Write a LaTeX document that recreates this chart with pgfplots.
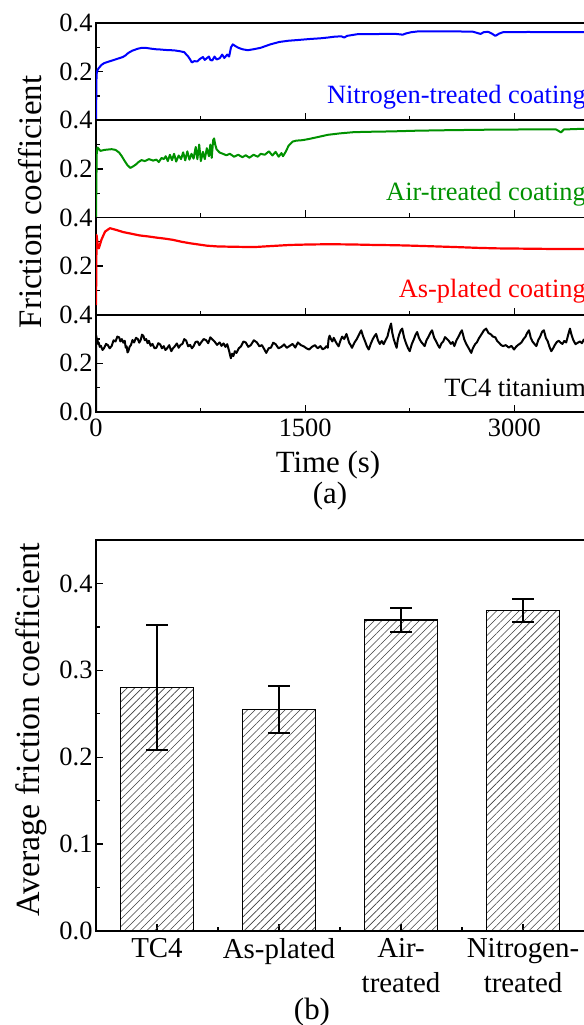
\documentclass[border=0pt]{standalone}
\usepackage{fontspec}
\setmainfont{Liberation Serif}
\usepackage{pgfplots}
\pgfplotsset{compat=1.18}
\usetikzlibrary{patterns.meta}

\definecolor{cblue}{RGB}{0,0,255}
\definecolor{cgreen}{RGB}{0,145,0}
\definecolor{cred}{RGB}{255,0,0}

\tikzset{lab/.style={font=\fontsize{26.5}{26.5}\selectfont, anchor=east, inner sep=0pt}}

\pgfplotsset{
  common/.style={
    anchor=south west, scale only axis,
    tick align=inside, xtick pos=bottom, ytick pos=left,
    major tick length=7bp, minor tick length=4bp,
    every tick/.style={line width=1.3bp, black},
    axis line style={line width=1.6bp},
    /pgf/number format/assume math mode=true,
    yticklabel style={/pgf/number format/.cd, fixed, fixed zerofill, precision=1},
    tick label style={font=\fontsize{26.5}{26.5}\selectfont},
  },
  panel/.style={
    common,
    at={(96bp,#1)},
    width=490bp, height=97.25bp,
    xmin=0, xmax=3514, ymin=0, ymax=0.4,
    xtick={0,1500,3000}, minor xtick={750,2250},
    xticklabels={,,},
    ytick={0.2,0.4}, minor ytick={0.1,0.3},
  },
}

\begin{document}
\begin{tikzpicture}
\useasboundingbox (0,0) rectangle (584bp,1025bp);

% ---------- panel 1: Nitrogen ----------
\begin{axis}[panel=904.75bp]
\addplot[cblue, line width=2bp, line join=round] coordinates {
(0,0.0) (4,0.19) (10,0.205) (19,0.214) (40,0.228) (59,0.235) (85,0.240) (112,0.245) (150,0.252)
(192,0.260) (210,0.266) (232,0.277) (260,0.286) (299,0.294) (330,0.298) (353,0.298) (400,0.294)
(430,0.292) (460,0.291) (500,0.289) (540,0.288) (566,0.287) (600,0.284) (633,0.280) (645,0.272)
(660,0.263) (675,0.250) (687,0.238) (705,0.243) (727,0.242) (745,0.252) (767,0.260) (780,0.248)
(794,0.255) (810,0.262) (820,0.248) (834,0.246) (850,0.262) (865,0.250) (887,0.255) (905,0.270)
(920,0.256) (941,0.270) (955,0.262) (968,0.300) (981,0.312) (1000,0.305) (1021,0.298) (1050,0.292)
(1088,0.288) (1130,0.292) (1181,0.298) (1250,0.312) (1315,0.322) (1380,0.327) (1448,0.330)
(1530,0.334) (1609,0.337) (1660,0.340) (1715,0.344) (1760,0.345) (1780,0.340) (1800,0.347)
(1876,0.354) (1950,0.354) (2063,0.355) (2150,0.355) (2200,0.352) (2223,0.357) (2260,0.362)
(2303,0.365) (2400,0.366) (2517,0.366) (2620,0.365) (2704,0.364) (2740,0.358) (2758,0.355)
(2780,0.362) (2811,0.364) (2840,0.356) (2864,0.347) (2890,0.356) (2918,0.362) (3100,0.363)
(3300,0.362) (3500,0.362)
};
\node[lab, text=cblue] at (rel axis cs:1,0.235) {Nitrogen-treated coating};
\end{axis}

% ---------- panel 2: Air ----------
\begin{axis}[panel=807.5bp]
\addplot[cgreen, line width=2bp, line join=round] coordinates {
(0,0.0) (5,0.26) (11,0.288) (32,0.274) (60,0.278) (112,0.281) (140,0.278) (166,0.267) (185,0.252)
(206,0.232) (226,0.215) (246,0.204) (266,0.210) (286,0.218) (305,0.228) (326,0.236) (350,0.232)
(380,0.240) (410,0.234) (433,0.238) (450,0.228) (470,0.245) (486,0.240) (500,0.252) (515,0.232)
(530,0.258) (545,0.236) (560,0.262) (575,0.230) (593,0.255) (610,0.240) (625,0.268) (640,0.235)
(655,0.272) (670,0.238) (685,0.262) (700,0.242) (715,0.290) (727,0.240) (740,0.300) (752,0.232)
(767,0.270) (780,0.240) (795,0.285) (810,0.252) (820,0.300) (830,0.245) (840,0.318) (847,0.325)
(855,0.300) (865,0.280) (887,0.267) (910,0.262) (935,0.256) (960,0.262) (990,0.250) (1020,0.258)
(1050,0.248) (1074,0.256) (1100,0.246) (1130,0.258) (1160,0.250) (1181,0.262) (1210,0.258)
(1240,0.272) (1265,0.255) (1288,0.270) (1310,0.250) (1330,0.265) (1341,0.252) (1360,0.270)
(1381,0.295) (1410,0.312) (1435,0.316) (1480,0.318) (1528,0.323) (1600,0.332) (1662,0.340)
(1750,0.346) (1849,0.351) (2000,0.353) (2116,0.354) (2300,0.357) (2517,0.359) (2800,0.361)
(3051,0.362) (3300,0.362) (3335,0.350) (3355,0.362) (3500,0.365)
};
\node[lab, text=cgreen] at (rel axis cs:1,0.24) {Air-treated coating};
\end{axis}

% ---------- panel 3: As-plated ----------
\begin{axis}[panel=710.25bp]
\addplot[cred, line width=2.2bp, line join=round] coordinates {
(0,0.040) (4,0.328) (12,0.290) (20,0.273) (40,0.310) (65,0.342) (100,0.356) (150,0.348)
(195,0.340) (255,0.333) (315,0.326) (375,0.322) (437,0.317) (495,0.313) (552,0.308) (615,0.300)
(674,0.294) (735,0.289) (796,0.284) (870,0.281) (950,0.280) (1050,0.279) (1155,0.279) (1270,0.283)
(1391,0.287) (1530,0.289) (1678,0.290) (1840,0.289) (2000,0.287) (2140,0.286) (2274,0.284)
(2440,0.281) (2600,0.278) (2740,0.275) (2876,0.273) (3040,0.272) (3200,0.271) (3350,0.270)
(3500,0.270)
};
\node[lab, text=cred] at (rel axis cs:1,0.245) {As-plated coating};
\end{axis}

% ---------- panel 4: TC4 ----------
\begin{axis}[panel=613bp, ytick={0,0.2,0.4},
  xticklabels={0,1500,3000}, xticklabel style={yshift=-3bp}]
\addplot[black, line width=2bp, line join=round] coordinates {
(0,0.0) (2,0.314) (6,0.295) (10,0.300) (15,0.280) (19,0.286) (27,0.268) (35,0.272) (47,0.255)
(59,0.264) (72,0.280) (85,0.275) (98,0.262) (112,0.271) (126,0.295) (140,0.290) (153,0.310)
(166,0.307) (175,0.290) (185,0.300) (196,0.285) (206,0.293) (213,0.265) (220,0.270) (226,0.245)
(232,0.250) (241,0.268) (250,0.275) (262,0.296) (273,0.286) (287,0.305) (300,0.300) (310,0.285)
(320,0.295) (330,0.318) (339,0.314) (350,0.295) (360,0.300) (370,0.283) (379,0.293) (392,0.272)
(405,0.280) (420,0.262) (433,0.264) (447,0.283) (460,0.278) (473,0.262) (486,0.271) (498,0.255)
(510,0.262) (525,0.275) (540,0.250) (552,0.262) (565,0.270) (580,0.282) (593,0.264) (606,0.276)
(620,0.280) (633,0.300) (647,0.293) (661,0.270) (675,0.276) (688,0.262) (700,0.271) (714,0.288)
(728,0.290) (741,0.275) (754,0.286) (772,0.300) (790,0.295) (805,0.283) (820,0.307) (835,0.298)
(850,0.290) (868,0.276) (887,0.286) (900,0.272) (915,0.282) (928,0.268) (941,0.279) (955,0.250)
(967,0.221) (976,0.240) (985,0.230) (996,0.250) (1007,0.243) (1024,0.262) (1040,0.270)
(1057,0.290) (1074,0.286) (1092,0.268) (1110,0.275) (1132,0.295) (1154,0.286) (1172,0.270)
(1190,0.275) (1205,0.260) (1221,0.243) (1238,0.262) (1255,0.265) (1271,0.285) (1288,0.279)
(1309,0.262) (1330,0.268) (1349,0.278) (1368,0.264) (1389,0.272) (1410,0.280) (1429,0.265)
(1448,0.286) (1469,0.275) (1490,0.270) (1509,0.262) (1528,0.257) (1549,0.268) (1570,0.275)
(1590,0.262) (1609,0.271) (1625,0.258) (1640,0.262) (1651,0.270) (1662,0.264) (1668,0.300)
(1675,0.314) (1685,0.300) (1695,0.290) (1705,0.305) (1715,0.293) (1728,0.280) (1740,0.270)
(1752,0.292) (1765,0.310) (1780,0.300) (1796,0.321) (1805,0.305) (1815,0.285) (1826,0.275)
(1836,0.264) (1853,0.285) (1870,0.300) (1886,0.318) (1902,0.336) (1916,0.310) (1930,0.290)
(1943,0.270) (1956,0.257) (1970,0.280) (1985,0.300) (1997,0.312) (2009,0.321) (2022,0.295)
(2035,0.280) (2049,0.292) (2063,0.279) (2076,0.295) (2090,0.310) (2103,0.340) (2116,0.364)
(2125,0.325) (2135,0.300) (2145,0.282) (2156,0.264) (2165,0.300) (2175,0.320) (2185,0.335)
(2196,0.343) (2210,0.305) (2225,0.280) (2238,0.262) (2250,0.250) (2265,0.280) (2280,0.300)
(2292,0.318) (2303,0.329) (2316,0.305) (2330,0.290) (2344,0.280) (2357,0.271) (2370,0.295)
(2385,0.310) (2397,0.325) (2410,0.336) (2425,0.305) (2440,0.290) (2452,0.275) (2464,0.264)
(2477,0.282) (2490,0.290) (2503,0.308) (2517,0.300) (2531,0.292) (2545,0.280) (2558,0.288)
(2570,0.271) (2585,0.295) (2600,0.310) (2612,0.325) (2624,0.336) (2640,0.300) (2655,0.280)
(2673,0.262) (2691,0.243) (2700,0.258) (2710,0.270) (2720,0.280) (2731,0.286) (2748,0.305)
(2765,0.320) (2781,0.335) (2798,0.343) (2814,0.325) (2830,0.320) (2847,0.310) (2864,0.307)
(2877,0.292) (2890,0.285) (2904,0.276) (2918,0.271) (2939,0.275) (2960,0.265) (2979,0.272)
(2998,0.257) (3012,0.268) (3025,0.275) (3038,0.280) (3051,0.286) (3066,0.300) (3080,0.310)
(3092,0.325) (3105,0.336) (3118,0.305) (3130,0.290) (3144,0.280) (3158,0.271) (3171,0.295)
(3185,0.310) (3199,0.330) (3212,0.336) (3226,0.305) (3240,0.290) (3252,0.268) (3265,0.250)
(3278,0.262) (3290,0.275) (3305,0.288) (3319,0.293) (3332,0.285) (3345,0.280) (3358,0.292)
(3372,0.286) (3385,0.315) (3399,0.343) (3410,0.318) (3420,0.300) (3430,0.288) (3439,0.279)
(3455,0.285) (3470,0.290) (3485,0.283) (3500,0.300)
};
\node[lab, text=black] at (rel axis cs:1,0.245) {TC4 titanium};
\end{axis}

\node[rotate=90, font=\fontsize{33}{33}\selectfont] at (30bp,823bp) {Friction coefficient};
\node[font=\fontsize{31}{31}\selectfont] at (328bp,560bp) {Time (s)};
\node[font=\fontsize{31}{31}\selectfont] at (330bp,529bp) {(a)};

% ---------- bar chart ----------
\begin{axis}[common,
  at={(96bp,94bp)},
  width=490bp, height=391bp,
  xmin=-0.5, xmax=3.516, ymin=0, ymax=0.45,
  ytick={0,0.1,0.2,0.3,0.4}, minor ytick={0.05,0.15,0.25,0.35},
  xtick={0,1,2,3}, minor xtick={0.5,1.5,2.5},
  xticklabels={TC4,As-plated,Air-\\treated,Nitrogen-\\treated},
  xticklabel style={align=center, font=\fontsize{29}{35}\selectfont, yshift=-4bp},
]
\addplot[ybar, bar width=73bp, draw=black, line width=1.4bp,
  pattern={Lines[angle=45,distance=5.3bp,line width=0.6bp]}, pattern color=black!75,
  error bars/.cd, y dir=both, y explicit,
  error bar style={line width=1.8bp, black},
  error mark options={rotate=90, mark size=11bp, line width=1.8bp, black}]
coordinates {
(0,0.280) +- (0,0.072)
(1,0.255) +- (0,0.027)
(2,0.358) +- (0,0.0135)
(3,0.369) +- (0,0.013)
};
\end{axis}

\node[rotate=90, font=\fontsize{34}{34}\selectfont] at (31bp,295bp) {Average friction coefficient};
\node[font=\fontsize{31}{31}\selectfont] at (312bp,13bp) {(b)};
\end{tikzpicture}
\end{document}
